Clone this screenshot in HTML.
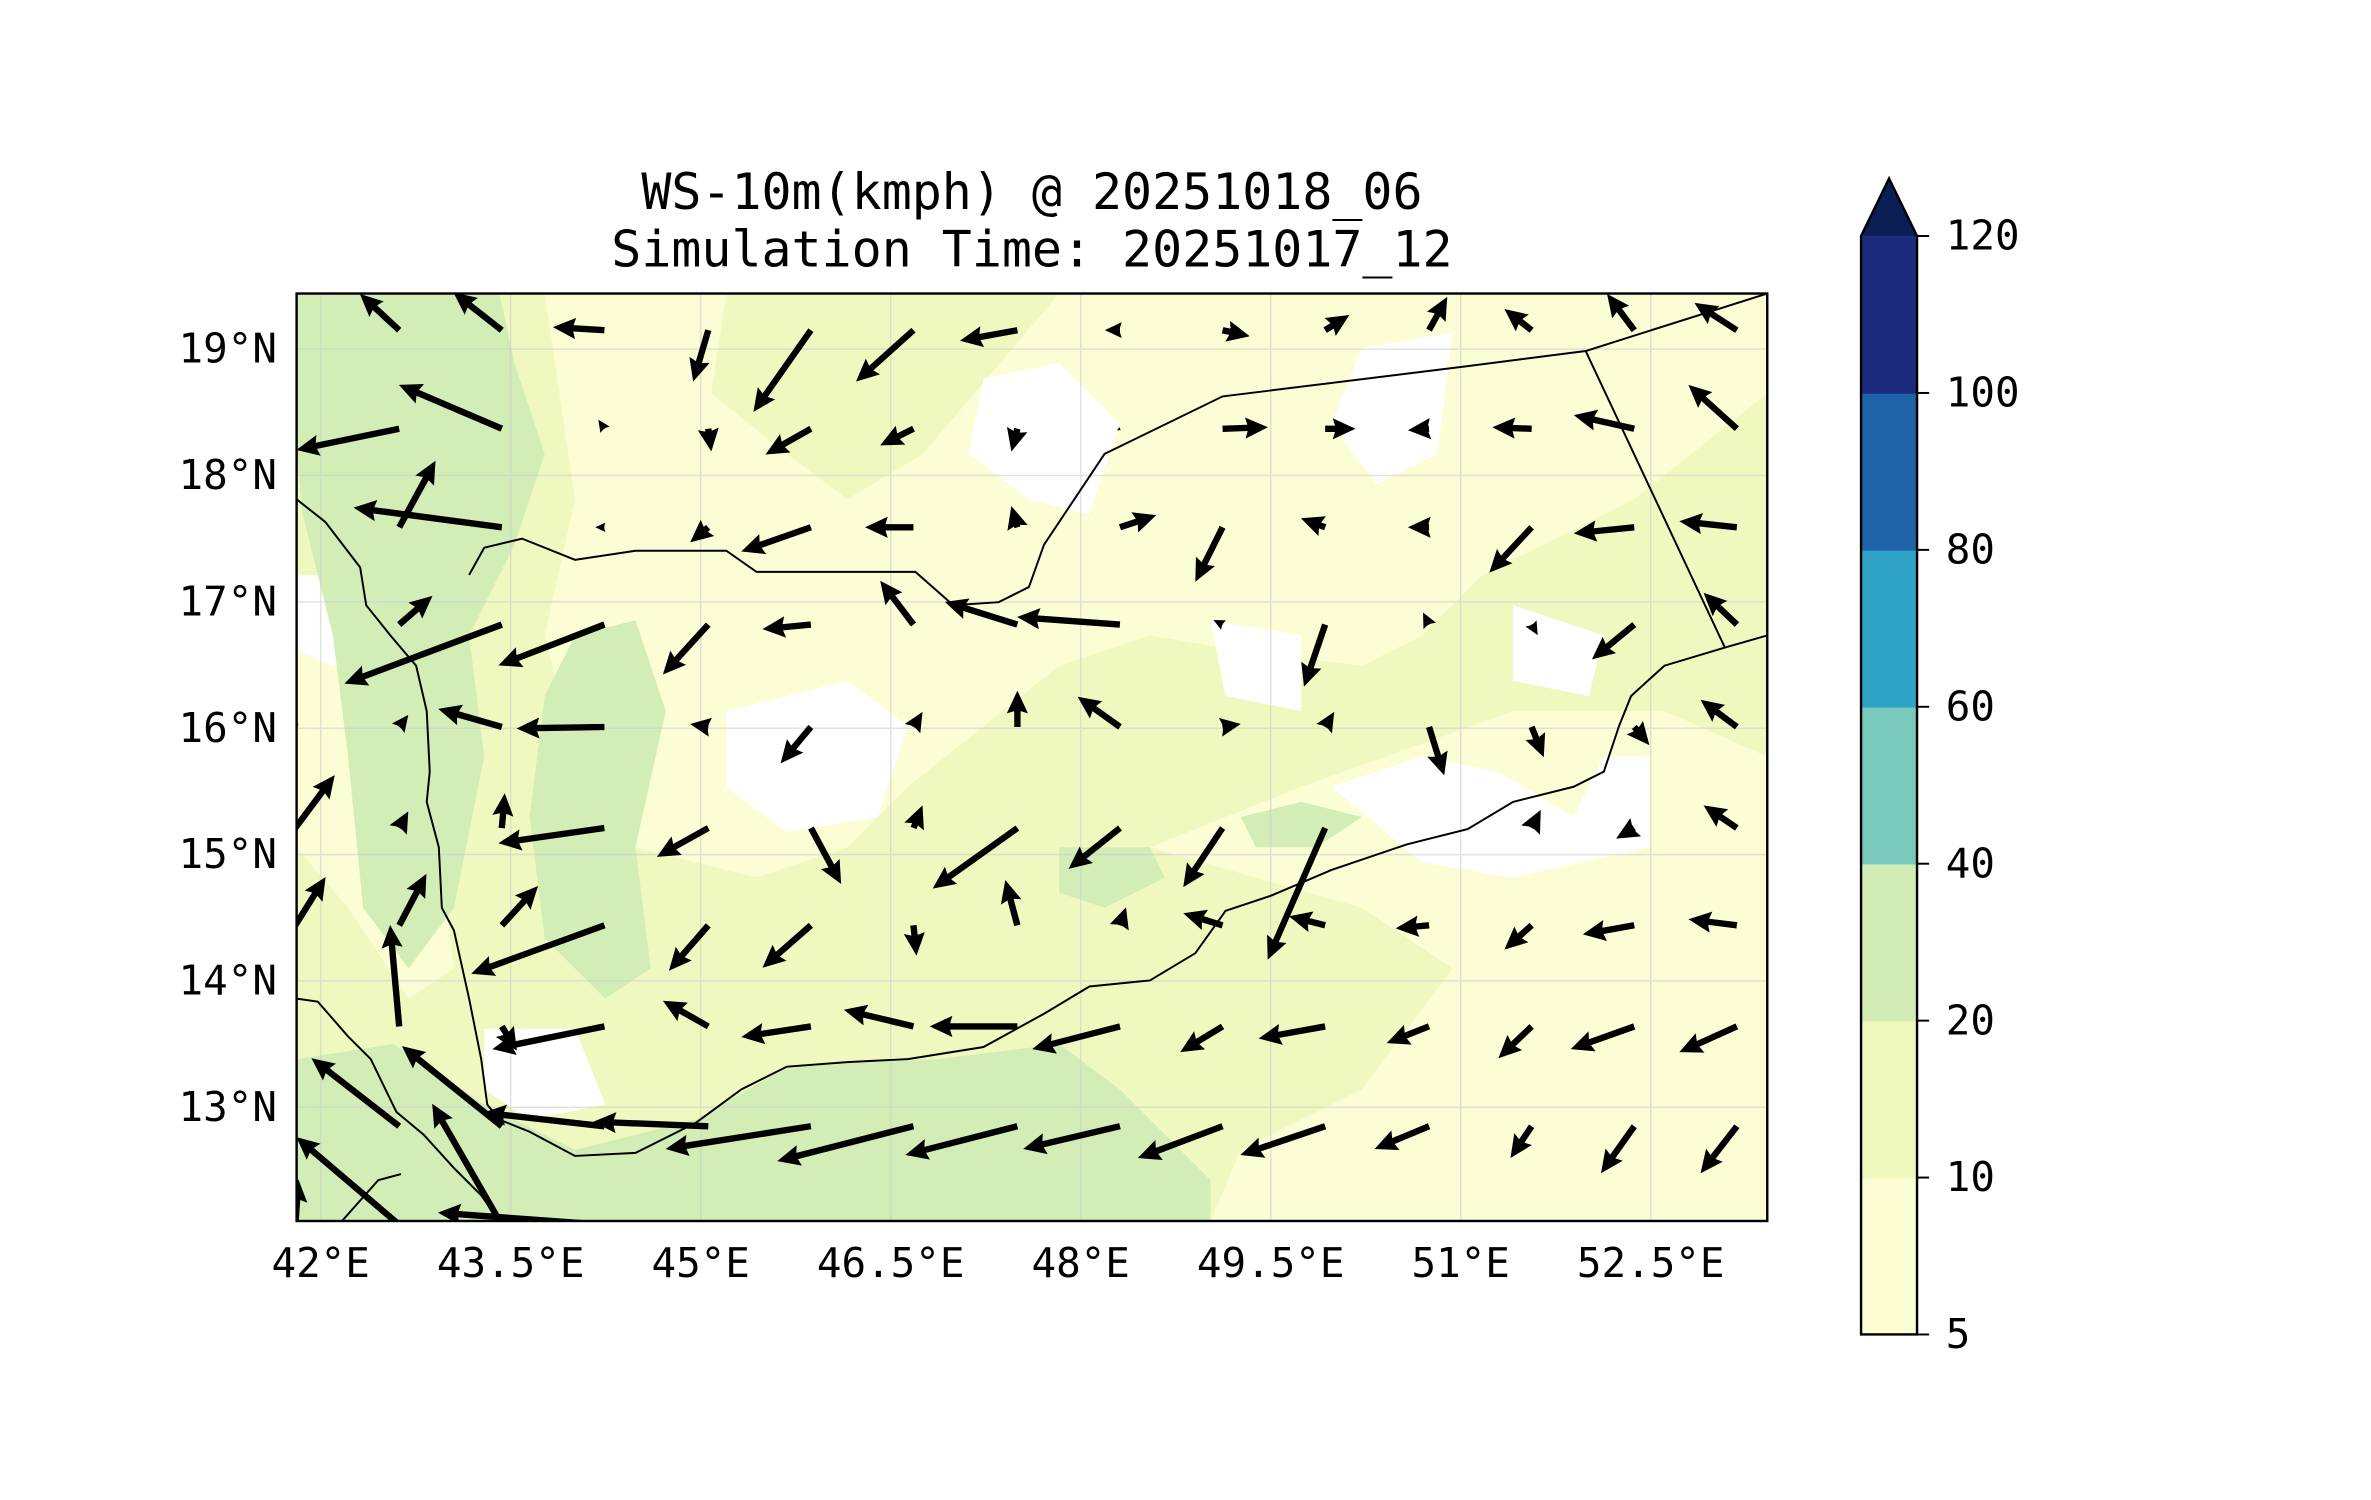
<!DOCTYPE html>
<html><head><meta charset="utf-8"><style>
html,body{margin:0;padding:0;background:#fff;}
svg{display:block;}
text{font-family:"DejaVu Sans Mono","Liberation Mono",monospace;fill:#000;}
</style></head><body>
<svg id="fig" width="2371" height="1500" viewBox="0 0 1567 991.4" xmlns="http://www.w3.org/2000/svg">
<defs><clipPath id="mapclip"><rect x="196" y="194" width="972" height="613"/></clipPath></defs>
<text x="682" y="138" font-size="33" text-anchor="middle">WS-10m(kmph) @ 20251018_06</text>
<text x="682" y="176" font-size="33" text-anchor="middle">Simulation Time: 20251017_12</text>
<g id="map" clip-path="url(#mapclip)">
 <rect x="196" y="194" width="972" height="613" fill="#eff9bf"/>
 <g>
  <path fill="#fbfdd5" d="M360,194 L480,194 L470,260 L520,300 L560,330 L610,300 L700,194 L1168,194 L1168,260 L1080,330 L980,380 L940,420 L900,440 L820,430 L760,420 L700,440 L650,480 L600,520 L560,560 L500,580 L420,560 L380,500 L360,420 L380,330 Z"/>
  <path fill="#fbfdd5" d="M760,560 L860,520 L1000,470 L1100,470 L1168,500 L1168,807 L800,807 L820,760 L900,720 L960,640 L900,600 Z"/>
  <path fill="#fbfdd5" d="M196,400 L270,380 L300,460 L290,560 L300,640 L270,660 L230,600 L196,560 Z"/>
  <path fill="#ffffff" d="M650,250 L700,240 L740,280 L720,340 L680,330 L640,300 Z"/>
  <path fill="#ffffff" d="M900,230 L960,220 L950,300 L910,320 L880,280 Z"/>
  <path fill="#ffffff" d="M800,410 L860,420 L860,470 L810,460 Z"/>
  <path fill="#ffffff" d="M1000,400 L1060,420 L1050,460 L1000,450 Z"/>
  <path fill="#ffffff" d="M480,470 L560,450 L600,480 L580,540 L520,550 L480,520 Z"/>
  <path fill="#ffffff" d="M880,520 L940,500 L990,510 L1040,540 L1060,500 L1090,500 L1090,560 L1000,580 L940,570 Z"/>
  <path fill="#ffffff" d="M196,380 L240,380 L250,420 L220,440 L196,430 Z"/>
  <path fill="#ffffff" d="M240,480 L290,470 L300,560 L270,580 L240,540 Z"/>
  <path fill="#ffffff" d="M320,680 L380,680 L400,730 L350,740 L320,720 Z"/>
  <path fill="#d2edb5" d="M196,194 L330,194 L340,240 L360,300 L340,360 L310,420 L320,500 L300,600 L270,640 L240,600 L230,500 L220,420 L200,340 L196,300 Z"/>
  <path fill="#d2edb5" d="M380,420 L420,410 L440,470 L420,560 L430,640 L400,660 L360,620 L350,540 L360,460 Z"/>
  <path fill="#d2edb5" d="M196,700 L260,690 L320,730 L380,760 L460,740 L520,705 L620,700 L700,690 L740,720 L800,780 L800,807 L196,807 Z"/>
  <path fill="#d2edb5" d="M700,560 L760,560 L770,580 L730,600 L700,590 Z"/>
  <path fill="#d2edb5" d="M820,540 L860,530 L900,540 L870,560 L830,560 Z"/>
 </g>
 <g stroke="#cfcfcf" stroke-width="1" opacity="0.6" id="grid"></g>
 <g fill="none" stroke="#000" stroke-width="1.3">
  <polyline points="196,330 215,345 238,375 242,400 258,420 275,440 282,470 284,510 282,530 290,560 292,600 300,615 310,660 318,700 322,730 330,740 350,748 380,764 420,762 460,742 490,720 520,705 560,702 600,700 650,692 690,670 720,652 760,648 790,630 810,602 840,592 880,575 930,558 970,548 1000,530 1040,520 1060,510 1070,480 1078,460 1100,440 1140,428 1168,420"/>
  <polyline points="196,660 210,662 230,685 245,700 262,735 280,750 300,772 318,790 330,807"/>
  <polyline points="310,380 320,362 345,356 380,370 420,364 480,364 500,378 605,378 630,400 660,398 680,388 690,360 730,300 808,262 970,242 1048,232"/>
  <polyline points="1048,232 1168,194"/>
  <polyline points="1048,232 1140,428"/>
  <polyline points="226,807 250,780 265,776"/>
 </g>
 <g id="arrows"></g>
</g>
<rect x="196" y="194" width="972" height="613" fill="none" stroke="#000" stroke-width="1.6"/>
<g id="axlabels"></g>
<g id="cbar"></g>
</svg>
<script>
const NS="http://www.w3.org/2000/svg";
// wind field: grid rows (lat) x cols (lon); u east, v north (display units)
const gridLons=[41.8,42.62,43.43,44.24,45.06,45.87,46.68,47.5,48.31,49.12,49.93,50.75,51.56,52.37,53.18];
const gridLats=[19.15,18.37,17.59,16.82,16.01,15.21,14.44,13.64,12.85,12.07];
const uRows=[
[0,-26,-32,-34,-10,-38,-38,-38,-10,18,16,12,-18,-18,-28],
[-68,-68,-68,-4,2,-30,-22,-4,-2,30,20,-14,-26,-40,-32],
[0,24,-98,-6,-12,-46,-32,-4,24,-18,-16,-14,-28,-40,-38],
[0,22,-104,-70,-30,-32,-22,-48,-68,-6,-14,-4,4,-28,-22],
[2,6,-42,-58,-12,-20,6,0,-28,12,6,10,8,10,-24],
[26,6,2,-70,-34,20,6,-56,-34,-26,-38,0,6,-12,-22],
[20,18,24,-88,-26,-32,2,-8,4,-26,-24,-22,-18,-34,-32],
[0,-6,10,-74,-30,-46,-46,-58,-58,-28,-44,-28,-22,-42,-38],
[-58,-58,-66,-80,-76,-96,-90,-74,-64,-56,-56,-36,-14,-22,-24],
[2,-68,-46,-110,0,0,0,0,0,0,0,0,0,0,0]];
const vRows=[
[0,24,25,2,-34,-54,-34,-7,0,-4,10,22,14,24,18],
[-14,-14,29,6,-15,-17,-11,-15,-1,1,0,-1,1,9,29],
[0,44,13,0,-10,-16,0,14,8,-36,6,0,-30,-4,4],
[0,19,-39,-27,-33,-3,29,15,5,3,-41,8,-7,-23,21],
[2,8,12,-1,2,-24,10,24,20,2,10,-32,-20,-12,18],
[35,11,23,-10,-19,-37,15,-40,-27,-39,-87,0,12,-7,15],
[32,34,26,-32,-30,-28,-20,30,12,8,6,-2,-16,-6,4],
[0,67,-16,-15,17,-7,11,0,-15,-17,-8,-11,-21,-15,-17],
[45,45,53,9,3,-15,-23,-19,-15,-21,-19,-15,-21,-31,-31],
[30,58,80,8,0,0,0,0,0,0,0,0,0,0,0]];
const lonTicks=[42,43.5,45,46.5,48,49.5,51,52.5];
const lonLabels=["42°E","43.5°E","45°E","46.5°E","48°E","49.5°E","51°E","52.5°E"];
const latTicks=[19,18,17,16,15,14,13];
const latLabels=["19°N","18°N","17°N","16°N","15°N","14°N","13°N"];
const cbLevels=[5,10,20,40,60,80,100,120];
const cbColors=["#fbfdd3","#eef8bd","#d1ecb4","#78c9bc","#2ea3c5","#2163a8","#1d2b7e"];
const cbExtendColor="#0b1f56";

const X0=196,X1=1168,Y0=194,Y1=807;
const lonMin=41.81,lonMax=53.42,latMin=12.1,latMax=19.44;
function xOf(lon){return X0+(lon-lonMin)/(lonMax-lonMin)*(X1-X0);}
function yOf(lat){return Y0+(latMax-lat)/(latMax-latMin)*(Y1-Y0);}

const grid=document.getElementById('grid');
lonTicks.forEach(l=>{const e=document.createElementNS(NS,'line');


e.setAttribute('x1',xOf(l));e.setAttribute('x2',xOf(l));e.setAttribute('y1',Y0);e.setAttribute('y2',Y1);grid.appendChild(e);});
latTicks.forEach(l=>{const e=document.createElementNS(NS,'line');


e.setAttribute('y1',yOf(l));e.setAttribute('y2',yOf(l));e.setAttribute('x1',X0);e.setAttribute('x2',X1);grid.appendChild(e);});

const ax=document.getElementById('axlabels');
lonTicks.forEach((l,i)=>{const t=document.createElementNS(NS,'text');


t.setAttribute('x',xOf(l));t.setAttribute('y',844);t.setAttribute('font-size','27');t.setAttribute('text-anchor','middle');t.textContent=lonLabels[i];ax.appendChild(t);});
latTicks.forEach((l,i)=>{const t=document.createElementNS(NS,'text');


t.setAttribute('x',183);t.setAttribute('y',yOf(l)+9);t.setAttribute('font-size','27');t.setAttribute('text-anchor','end');t.textContent=latLabels[i];ax.appendChild(t);});

const arr=document.getElementById('arrows');
const SW=2.1,HL=15,HAL=13.5,HW=7;
for(let r=0;r<gridLats.length;r++)for(let c=0;c<gridLons.length;c++){
 const u=uRows[r][c],v=vRows[r][c];const L=Math.hypot(u,v);if(L<0.5)continue;
 const x=xOf(gridLons[c]),y=yOf(gridLats[r]);
 let s=1,len=L;if(L<HAL){s=L/HAL;}
 const sw=SW*s,hl=HL*s,hal=HAL*s,hw=HW*s;
 const pts=[[0,-sw],[len-hal,-sw],[len-hl,-hw],[len,0],[len-hl,hw],[len-hal,sw],[0,sw]];
 const a=Math.atan2(-v,u);const ca=Math.cos(a),sa=Math.sin(a);
 const p=document.createElementNS(NS,'polygon');
 
 
 p.setAttribute('points',pts.map(q=>(x+q[0]*ca-q[1]*sa).toFixed(1)+','+(y+q[0]*sa+q[1]*ca).toFixed(1)).join(' '));
 p.setAttribute('fill','#000');arr.appendChild(p);
}

const cb=document.getElementById('cbar');
const CX0=1230,CX1=1267,CT=156,CB=882;
const n=cbLevels.length-1,step=(CB-CT)/n;
for(let i=0;i<n;i++){const rc=document.createElementNS(NS,'rect');


rc.setAttribute('x',CX0);rc.setAttribute('width',CX1-CX0);rc.setAttribute('y',CB-(i+1)*step);rc.setAttribute('height',step+0.5);rc.setAttribute('fill',cbColors[i]);cb.appendChild(rc);}
const tri=document.createElementNS(NS,'polygon');


tri.setAttribute('points',`${CX0},${CT} ${(CX0+CX1)/2},118 ${CX1},${CT}`);tri.setAttribute('fill',cbExtendColor);cb.appendChild(tri);
const ol=document.createElementNS(NS,'polygon');


ol.setAttribute('points',`${CX0},${CB} ${CX0},${CT} ${(CX0+CX1)/2},118 ${CX1},${CT} ${CX1},${CB}`);ol.setAttribute('fill','none');ol.setAttribute('stroke','#000');ol.setAttribute('stroke-width','1.6');cb.appendChild(ol);
cbLevels.forEach((lv,i)=>{const y=CB-i*step;
const tk=document.createElementNS(NS,'line');


tk.setAttribute('x1',CX1);tk.setAttribute('x2',CX1+8);tk.setAttribute('y1',y);tk.setAttribute('y2',y);tk.setAttribute('stroke','#000');tk.setAttribute('stroke-width','1.3');cb.appendChild(tk);
const t=document.createElementNS(NS,'text');


t.setAttribute('x',1286);t.setAttribute('y',y+9);t.setAttribute('font-size','27');t.textContent=lv;cb.appendChild(t);});
</script>
</body></html>
